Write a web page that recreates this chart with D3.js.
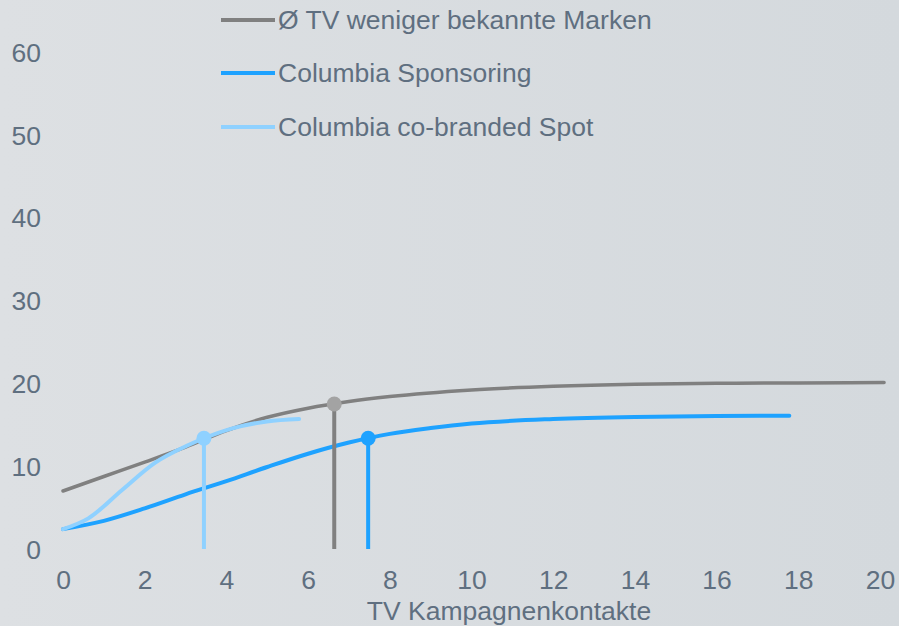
<!DOCTYPE html>
<html>
<head>
<meta charset="utf-8">
<script src="https://cdn.jsdelivr.net/npm/d3@7"></script>
<style>
  html, body { margin: 0; padding: 0; }
  svg { display: block; }
  text { font-family: "Liberation Sans", Arial, sans-serif; }
</style>
</head>
<body>
<svg id="chart" width="899" height="626"></svg>
<script>
// ---- data ----
const seriesNames = ["Ø TV weniger bekannte Marken", "Columbia Sponsoring", "Columbia co-branded Spot"];
const xTicks = [0, 2, 4, 6, 8, 10, 12, 14, 16, 18, 20];
const yTicks = [0, 10, 20, 30, 40, 50, 60];
const xTitle = "TV Kampagnenkontakte";

const grayX = [0, 1, 2, 3, 4, 5, 6, 7, 8, 10, 12, 14, 16, 18, 20.1];
const grayY = [7.0, 8.75, 10.5, 12.3, 14.3, 15.9, 17.0, 17.8, 18.4, 19.2, 19.65, 19.9, 20.0, 20.05, 20.1];

const blueX = [0, 1, 2, 3, 4, 5, 6, 7, 8, 9, 10, 12, 14, 16, 17.78];
const blueY = [2.4, 3.4, 4.9, 6.6, 8.2, 9.9, 11.5, 12.85, 13.9, 14.6, 15.15, 15.7, 15.95, 16.05, 16.1];

const lightX = [0, 0.62, 1.44, 2.25, 3.07, 3.45, 4.17, 4.99, 5.78];
const lightY = [2.4, 3.7, 7.1, 10.4, 12.55, 13.37, 14.6, 15.4, 15.7];

// highlighted points (x, y) with drop lines
const markerX = [6.64, 7.47, 3.45];
const markerY = [17.5, 13.37, 13.37];

// ---- styles ----
const lineColors = ["#808080", "#1ea2ff", "#8fd1ff"];
const markerColors = ["#a3a3a3", "#1ea2ff", "#8fd1ff"];
const textColor = "#5f6f80";
const fontSize = 26.5;

const svg = d3.select("#chart");
const W = 899, H = 626;

const defs = svg.append("defs");
const grad = defs.append("linearGradient").attr("id", "bg").attr("x1", "0").attr("x2", "1").attr("y1", "0").attr("y2", "0");
grad.append("stop").attr("offset", "0%").attr("stop-color", "#dde0e3");
grad.append("stop").attr("offset", "100%").attr("stop-color", "#d4d9dd");
svg.append("rect").attr("width", W).attr("height", H).attr("fill", "url(#bg)");

const x = d3.scaleLinear().domain([0, 20]).range([63, 880]);
const y = d3.scaleLinear().domain([0, 60]).range([549, 52]);

// y axis labels
const yAxis = d3.axisLeft(y).tickValues(yTicks).tickSize(0).tickPadding(0);
const gy = svg.append("g").attr("transform", "translate(41,0)").call(yAxis);
gy.select(".domain").remove();
gy.selectAll("text").attr("fill", textColor).style("font-size", fontSize + "px")
  .attr("font-family", "Liberation Sans, Arial, sans-serif").attr("dy", "0.35em").attr("text-anchor", "end");

// x axis labels
const xAxis = d3.axisBottom(x).tickValues(xTicks).tickSize(0).tickPadding(0);
const gx = svg.append("g").attr("transform", "translate(0,570)").call(xAxis);
gx.select(".domain").remove();
gx.selectAll("text").attr("fill", textColor).style("font-size", fontSize + "px")
  .attr("font-family", "Liberation Sans, Arial, sans-serif").attr("dy", "0.71em").attr("y", 0);

svg.append("text").attr("x", 509).attr("y", 620).attr("text-anchor", "middle")
  .attr("fill", textColor).style("font-size", fontSize + "px").text(xTitle);

// lines
const lineGen = d3.line().x(d => x(d[0])).y(d => y(d[1])).curve(d3.curveMonotoneX);
const series = [d3.zip(grayX, grayY), d3.zip(blueX, blueY), d3.zip(lightX, lightY)];
const widths = [3.5, 4, 4];
series.forEach((s, i) => {
  svg.append("path").datum(s).attr("d", lineGen).attr("fill", "none")
    .attr("stroke", lineColors[i]).attr("stroke-width", widths[i])
    .attr("stroke-linecap", "round").attr("stroke-linejoin", "round");
});

// drop lines and markers
markerX.forEach((mx, i) => {
  svg.append("line").attr("x1", x(mx)).attr("x2", x(mx)).attr("y1", y(markerY[i])).attr("y2", y(0))
    .attr("stroke", lineColors[i]).attr("stroke-width", 4);
  svg.append("circle").attr("cx", x(mx)).attr("cy", y(markerY[i])).attr("r", 7.5)
    .attr("fill", markerColors[i]);
});

// legend
const legendY = [20, 73, 127];
seriesNames.forEach((name, i) => {
  svg.append("line").attr("x1", 221).attr("x2", 275).attr("y1", legendY[i]).attr("y2", legendY[i])
    .attr("stroke", lineColors[i]).attr("stroke-width", 4);
  svg.append("text").attr("x", 278).attr("y", legendY[i]).attr("dy", "0.35em")
    .attr("fill", textColor).style("font-size", fontSize + "px").text(name);
});
</script>
</body>
</html>
